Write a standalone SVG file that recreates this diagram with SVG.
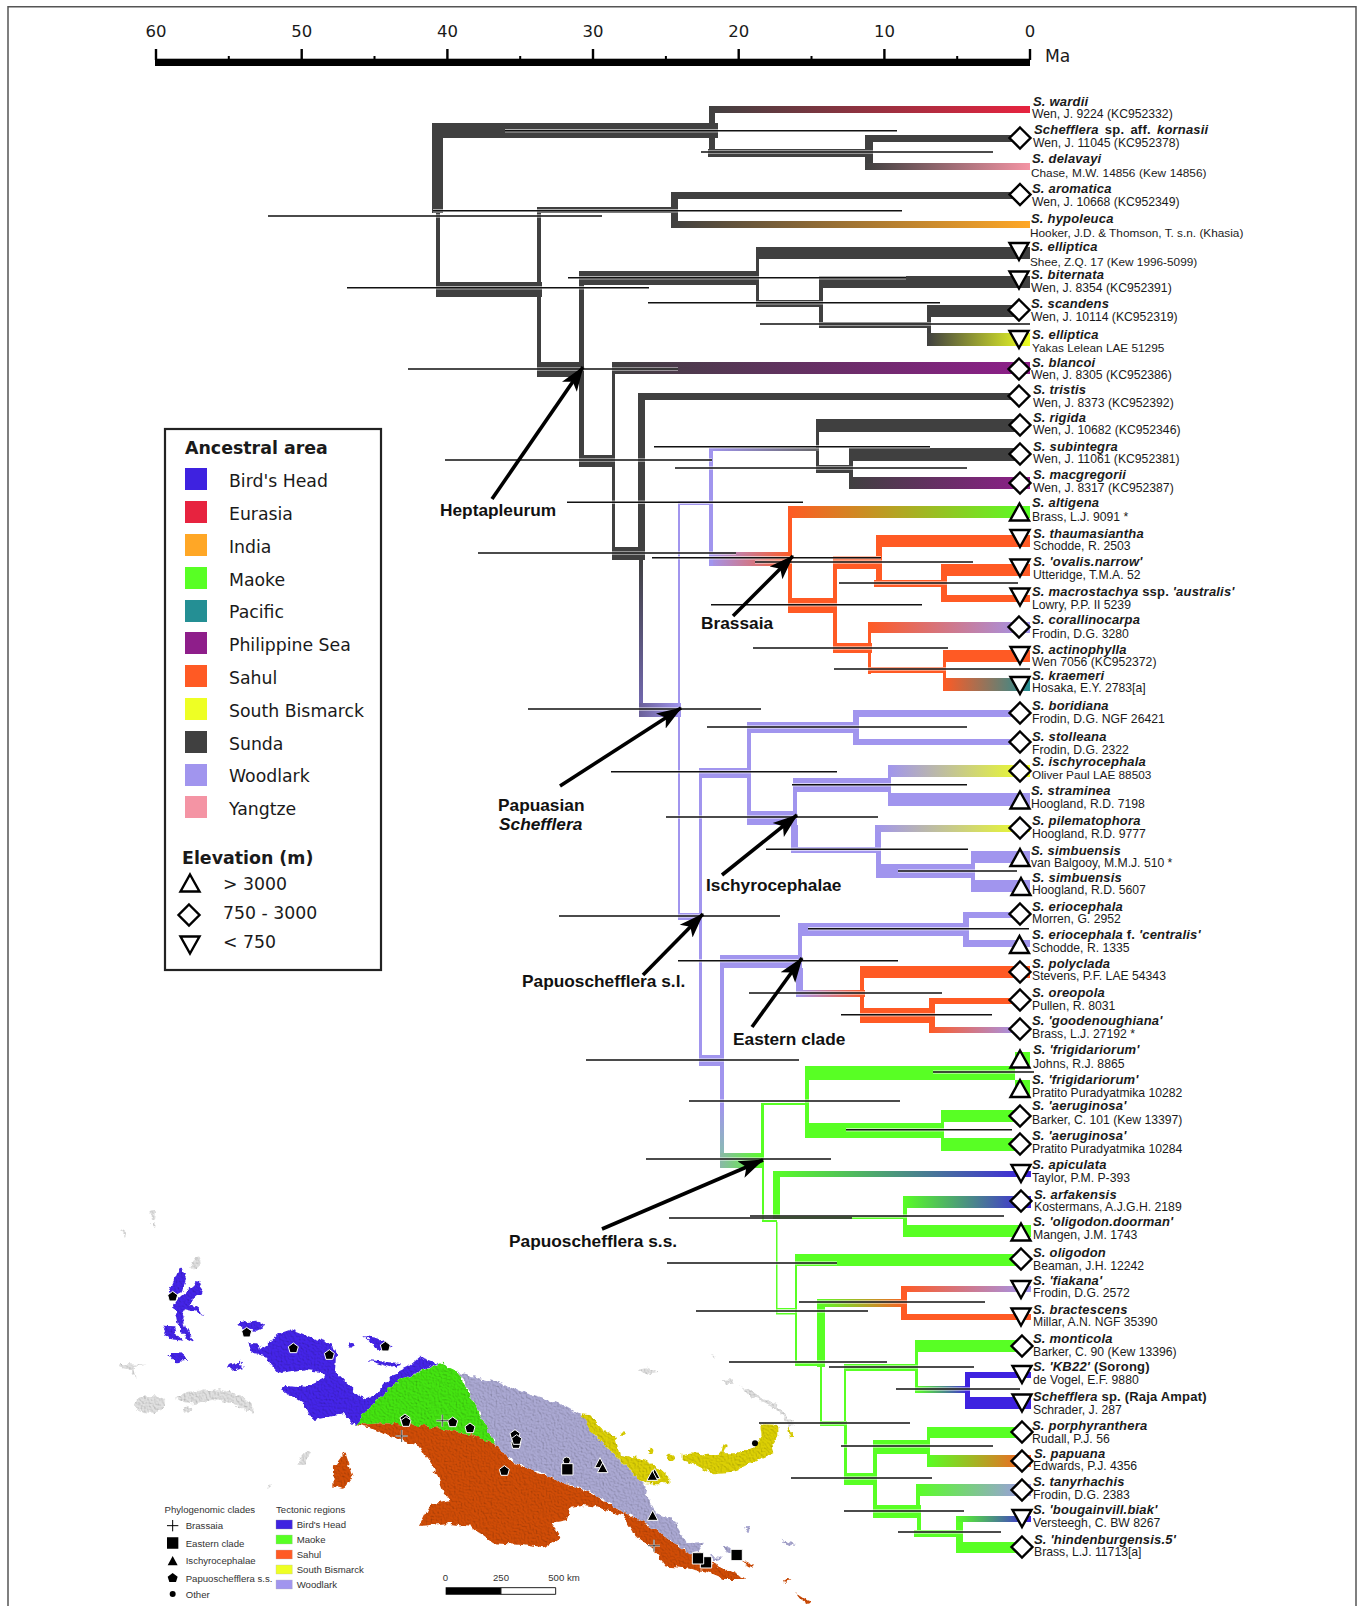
<svg xmlns="http://www.w3.org/2000/svg" width="1363" height="1606" viewBox="0 0 1363 1606">
<style>
text{font-family:"Liberation Sans",Arial,sans-serif;fill:#1a1a1a}
.d{font-family:"DejaVu Sans",sans-serif}
.su{fill:#404040}.wo{fill:#a195ee}.sa{fill:#ff5a24}.ma{fill:#58ff24}.bh{fill:#3e22e0}
.sp{font-size:13px;font-weight:bold;font-style:italic;letter-spacing:.2px}
.sp tspan{font-style:normal}
.co{font-size:12.2px}
.cn{font-size:11.8px}
.cl{font-size:17.3px;font-weight:bold;fill:#111}
.lg{font-size:17.3px}
.lb{font-size:17.4px;font-weight:bold}
.ax{font-size:16.5px;text-anchor:middle}
.sym{fill:#fff;stroke:#000;stroke-width:2.4;stroke-linejoin:miter}
.cih{fill:none;stroke:#fff;stroke-width:3.4;opacity:.6}
.cil{fill:none;stroke:#111;stroke-width:1.5}
.arr{stroke:#000;stroke-width:3.6;fill:none;marker-end:url(#ah)}
.ml{font-size:9.6px;fill:#333}
.mk{fill:#000;stroke:#fff;stroke-width:3}
.gr{fill:#e0e0e0}.mbh{fill:#4424e8}.mma{fill:#44e410}.mwo{fill:#aaa8d2}.msa{fill:#d04c06}.msb{fill:#dcd004}
</style>
<defs>
<linearGradient id="su-eu"><stop offset="0" stop-color="#404040"/><stop offset="1" stop-color="#e7233f"/></linearGradient>
<linearGradient id="su-ya"><stop offset="0" stop-color="#404040"/><stop offset="1" stop-color="#f494a4"/></linearGradient>
<linearGradient id="su-in"><stop offset="0" stop-color="#404040"/><stop offset="1" stop-color="#ffa726"/></linearGradient>
<linearGradient id="su-sb"><stop offset="0" stop-color="#404040"/><stop offset="1" stop-color="#eeff24"/></linearGradient>
<linearGradient id="su-ph"><stop offset="0" stop-color="#404040"/><stop offset="1" stop-color="#8e1e8a"/></linearGradient>
<linearGradient id="wo-su"><stop offset="0" stop-color="#a195ee"/><stop offset="1" stop-color="#666"/></linearGradient>
<linearGradient id="wo-sa"><stop offset="0" stop-color="#a195ee"/><stop offset="1" stop-color="#ff5a24"/></linearGradient>
<linearGradient id="wo-sb"><stop offset="0" stop-color="#a195ee"/><stop offset="1" stop-color="#eeff24"/></linearGradient>
<linearGradient id="sa-ma"><stop offset="0" stop-color="#ff5a24"/><stop offset="1" stop-color="#58ff24"/></linearGradient>
<linearGradient id="sa-wo"><stop offset="0" stop-color="#ff5a24"/><stop offset="1" stop-color="#a195ee"/></linearGradient>
<linearGradient id="sa-pa"><stop offset="0" stop-color="#ff5a24"/><stop offset="1" stop-color="#248f94"/></linearGradient>
<linearGradient id="ma-bh"><stop offset="0" stop-color="#58ff24"/><stop offset="1" stop-color="#3e22e0"/></linearGradient>
<linearGradient id="ma-sa"><stop offset="0" stop-color="#58ff24"/><stop offset="1" stop-color="#ff5a24"/></linearGradient>
<linearGradient id="ma-wo"><stop offset="0" stop-color="#58ff24"/><stop offset="1" stop-color="#a195ee"/></linearGradient>
<linearGradient id="su-wov" x2="0" y2="1"><stop offset="0" stop-color="#404040"/><stop offset="1" stop-color="#7268b0"/></linearGradient>
<linearGradient id="su-woh"><stop offset="0" stop-color="#6a6098"/><stop offset="1" stop-color="#a195ee"/></linearGradient>
<linearGradient id="wo-mav" x2="0" y2="1"><stop offset="0" stop-color="#a195ee"/><stop offset=".4" stop-color="#a195ee"/><stop offset="1" stop-color="#82c8a0"/></linearGradient>
<linearGradient id="wo-mah"><stop offset="0" stop-color="#8ab8a8"/><stop offset="1" stop-color="#58ff24"/></linearGradient>
<path id="dia" class="sym" d="M0-10.5 10.5 0 0 10.5-10.5 0Z"/>
<path id="up" class="sym" d="M0-8.5 9.5 8.5H-9.5Z"/>
<path id="dn" class="sym" d="M0 8.5 9.5-8.5H-9.5Z"/>
<marker id="ah" markerUnits="userSpaceOnUse" markerWidth="26" markerHeight="20" refX="24" refY="10" orient="auto" viewBox="0 0 26 20"><path d="M0 1 25 10 0 19 6 10Z" fill="#000"/></marker>
<filter id="hill" x="-3%" y="-3%" width="106%" height="106%" color-interpolation-filters="sRGB"><feTurbulence type="fractalNoise" baseFrequency=".05" numOctaves="3" seed="7" result="w"/><feDisplacementMap in="SourceGraphic" in2="w" scale="20" xChannelSelector="R" yChannelSelector="G" result="s"/><feTurbulence type="fractalNoise" baseFrequency=".2" numOctaves="2" seed="4" result="n"/><feDiffuseLighting in="n" surfaceScale="2" lighting-color="#fff" diffuseConstant="1.1" result="l"><feDistantLight azimuth="315" elevation="62"/></feDiffuseLighting><feComposite in="l" in2="s" operator="in" result="c"/><feBlend in="s" in2="c" mode="multiply"/></filter>
<path id="pe" class="mk" d="M0-16 15-5 10 13H-10L-15-5Z"/>
<path id="squ" class="mk" d="M-17-17H17V17H-17Z"/>
<path id="tri" class="mk" d="M0-17 16 13H-16Z"/>
<g id="pl"><path d="M-18 0H18M0-18V18" fill="none" stroke="#fff" stroke-width="5"/><path d="M-18 0H18M0-18V18" fill="none" stroke="#000" stroke-width="2"/></g>
<path id="cis" d="M505 130.7H897M701 152H993M433 210.7H902M268 216H602M568 277.7H906M347 287.7H649M648 302.7H940M760 324H1030M408 369H678M654 446.7H930M445 460H712M675 468H967M567 502.3H803M478 553H736M652 557.7H881M755 562H973M839 583H1018M711 604.7H922M753 648H948M834 669H1030M528 709H761M707 727H967M611 771.7H837M792 784.7H967M666 817H878M766 849.3H968M898 871H1017M559 916H780M808 928.7H1029M678 960.7H898M749 993H942M841 1014.7H992M586 1060H799M933 1072H1034M689 1101H900M846 1129.7H1012M646 1159H831M750 1216H1004M669 1218H852M667 1263H837M799 1302H985M696 1311H868M729 1362H887M829 1367H974M896 1389H1020M759 1423H910M841 1446H993M791 1478H932M844 1511H964M898 1532H1001"/>
</defs>

<path id="frame" d="M8 1606V6.8H1356V1606" fill="none" stroke="#555" stroke-width="1.5"/>

<g id="map">
<g filter="url(#hill)" transform="translate(100,1190) scale(.33333)">
<g class="gr">
<ellipse cx="150" cy="643" rx="45" ry="25"/>
<path d="M225 625 260 605 360 598 420 615 460 650 460 672 400 640 340 630 280 640 240 635ZM270 232 285 205 300 200 302 225 285 240ZM155 62 168 65 165 90 155 85ZM152 100 165 100 162 115ZM62 120 78 130 75 142ZM58 522 140 524 100 532 108 570 95 540 60 532ZM245 655 280 650 275 662 250 668ZM620 782 630 785 612 825 595 825 600 805ZM510 880 516 885 508 898Z"/>
</g>
<g class="mbh">
<path d="M470 490 540 430 575 418 640 445 700 465 708 500 705 545 745 585 790 628 830 612 880 552 925 530 960 500 1015 520 900 570 830 630 765 705 730 672 640 690 610 640 545 600 560 585 620 590 670 568 678 548 620 540 540 552 490 495Z"/>
<path d="M208 305 240 232 258 262 250 300 222 314ZM235 325 295 275 307 285 300 310 265 340 315 372 255 358 245 375 258 410 282 455 258 445 232 400 222 345ZM185 410 225 412 232 438 247 452 205 447ZM205 492 240 492 265 512 225 517ZM380 530 415 515 432 535 395 542ZM415 400 470 392 497 410 470 422 430 417ZM445 460 475 460 482 488 455 487ZM790 438 830 443 872 470 840 484 810 457ZM800 510 905 520 870 532Z"/>
<circle cx="756" cy="466" r="7"/>
</g>
<path class="mma" d="M765 705 830 630 900 570 1020 520 1075 545 1130 650 1190 765 1100 730 950 705 850 700Z"/>
<path class="msa" d="M765 705 850 700 950 705 1100 730 1190 765 1240 815 1370 870 1470 905 1560 960 1640 1000 1720 1055 1770 1090 1795 1090 1840 1120 1890 1145 1940 1170 1880 1170 1820 1145 1760 1135 1700 1130 1660 1080 1600 1030 1570 980 1490 950 1450 945 1415 950 1400 990 1350 1000 1380 1040 1330 1075 1270 1065 1180 1060 1110 1010 1040 1000 960 1008 990 945 1050 932 1030 905 1010 850 960 770 900 750 830 720Z"/>
<path class="msa" d="M735 785 750 830 757 860 730 897 700 890 702 830Z"/>
</g>
<g filter="url(#hill)" transform="translate(460,1290) scale(.33333)">
<path class="gr" d="M532 240 560 235 595 245 560 252ZM752 192 765 198 762 205ZM785 270 815 268 822 285 795 285ZM840 285 900 320 950 345 985 385 1005 405 985 410 975 380 930 345 870 320Z"/>
<path class="mwo" d="M-5 245 60 265 110 275 170 300 240 320 310 345 355 370 380 385 400 430 470 500 540 570 560 590 555 610 590 670 640 690 680 760 735 755 715 785 690 790 640 755 560 700 480 660 390 605 290 570 160 515 108 465Z"/>
<path class="mwo" d="M795 772 808 768 812 790 800 788ZM745 797 790 802 760 808ZM855 712 870 710 866 730ZM965 750 1005 762 985 770Z"/>
<path class="msb" d="M360 370 385 372 420 410 465 440 480 495 540 505 590 530 625 560 625 580 560 580 540 570 470 500 400 430ZM665 495 700 490 745 495 785 490 790 460 800 465 790 490 840 490 880 470 905 440 900 400 955 405 955 440 935 470 940 490 880 515 820 545 760 550 700 520 665 510ZM982 405 1003 440 990 442Z"/>
<circle class="msb" cx="490" cy="431" r="7"/><ellipse class="msb" cx="572" cy="482" rx="8" ry="7"/><ellipse class="msb" cx="633" cy="505" rx="12" ry="11"/>
<path class="msa" d="M850 812 878 825 875 836 860 830ZM972 868 995 873 975 878ZM1005 908 1050 938 1040 942 1025 932Z"/>
</g>
<g id="map-markers" transform="translate(100,1190) scale(.33333)">
<use href="#pe" x="218" y="320"/><use href="#pe" x="440" y="428"/><use href="#pe" x="580" y="475"/><use href="#pe" x="688" y="495"/><use href="#pe" x="856" y="470"/><use href="#pe" x="915" y="688"/><use href="#pe" x="918" y="696"/><use href="#pe" x="1058" y="697"/><use href="#pe" x="1110" y="715"/><use href="#pe" x="1245" y="735"/><use href="#pe" x="1248" y="762"/><use href="#pe" x="1250" y="750"/><use href="#pe" x="1213" y="843"/>
<use href="#pl" x="1027" y="692"/><use href="#pl" x="905" y="738"/><use href="#pl" x="1662" y="1067"/>
<circle class="mk" cx="1400" cy="812" r="11"/><circle cx="1965" cy="760" r="9" fill="#000"/>
<use href="#squ" x="1402" y="838"/><use href="#squ" x="1818" y="1117"/><use href="#squ" x="1794" y="1105"/><use href="#squ" x="1910" y="1095"/>
<use href="#tri" x="1500" y="820"/><use href="#tri" x="1508" y="835"/><use href="#tri" x="1664" y="853"/><use href="#tri" x="1657" y="858"/><use href="#tri" x="1658" y="978"/>
<path d="M201 1007H235M218 990V1024" fill="none" stroke="#000" stroke-width="3"/>
<path d="M201 1042H235V1076H201ZM218 1098 233 1126H203ZM218 1149 233 1160 228 1176H208L203 1160Z" fill="#000"/>
<circle cx="218" cy="1212" r="9" fill="#000"/>
<path stroke="#999" d="M528 990H577V1017H528Z" fill="#3e22e0"/>
<path stroke="#bbb" d="M528 1035H577V1062H528Z" fill="#58ff24"/>
<path stroke="#bbb" d="M528 1080H577V1107H528Z" fill="#ff5a24"/>
<path stroke="#bbb" d="M528 1125H577V1152H528Z" fill="#eeff24"/>
<path stroke="#bbb" d="M528 1170H577V1197H528Z" fill="#a195ee"/>
<path d="M1037 1192H1203V1214H1037Z" fill="#000"/>
<path d="M1203 1193H1367V1213H1203Z" fill="#fff" stroke="#222" stroke-width="3"/>
</g>
<g id="map-legend">
<text class="ml" x="164.500" y="1513">Phylogenomic clades</text>
<text class="ml" x="185.700" y="1529.300">Brassaia</text>
<text class="ml" x="185.700" y="1546.700">Eastern clade</text>
<text class="ml" x="185.700" y="1564.300">Ischyrocephalae</text>
<text class="ml" x="185.700" y="1581.700">Papuoschefflera s.s.</text>
<text class="ml" x="185.700" y="1598">Other</text>
<text class="ml" x="276" y="1513">Tectonic regions</text>
<text class="ml" x="296.700" y="1528.300">Bird's Head</text>
<text class="ml" x="296.700" y="1543.300">Maoke</text>
<text class="ml" x="296.700" y="1558.300">Sahul</text>
<text class="ml" x="296.700" y="1573.300">South Bismarck</text>
<text class="ml" x="296.700" y="1588.300">Woodlark</text>
<text class="ml" x="445.500" y="1580.500" text-anchor="middle">0</text>
<text class="ml" x="501" y="1580.500" text-anchor="middle">250</text>
<text class="ml" x="564" y="1580.500" text-anchor="middle">500 km</text>
</g>
</g>

<g id="axis">
<rect x="155" y="58.700" width="875" height="7.300" fill="#000"/>
<path fill="none" stroke="#000" stroke-width="2.400" d="M156 49V60M301.700 49V60M447.400 49V60M593 49V60M738.700 49V60M884.400 49V60M1030 49V60"/>
<path fill="none" stroke="#000" stroke-width="2" d="M228.800 56V60M374.500 56V60M520.200 56V60M665.900 56V60M811.500 56V60M957.200 56V60"/>
<text class="ax d" x="156" y="37">60</text><text class="ax d" x="301.700" y="37">50</text><text class="ax d" x="447.400" y="37">40</text><text class="ax d" x="593" y="37">30</text><text class="ax d" x="738.700" y="37">20</text><text class="ax d" x="884.400" y="37">10</text><text class="ax d" x="1030" y="37">0</text>
<text class="d" style="font-size:17.200px" x="1045" y="62">Ma</text>
</g>

<g id="connectors">
<g class="su">
<rect x="432" y="123" width="286" height="15"/><rect x="432" y="123" width="11" height="90"/><rect x="436" y="213" width="4" height="84"/><rect x="436" y="282" width="106" height="15"/>
<rect x="709" y="106" width="6" height="51"/><rect x="708" y="149" width="165" height="8"/><rect x="865" y="135" width="8" height="35"/>
<rect x="537" y="207" width="140" height="6"/><rect x="671" y="192" width="7" height="36"/><rect x="537" y="207" width="4" height="170"/><rect x="537" y="362" width="46" height="15"/>
<rect x="579" y="271" width="5" height="196"/><rect x="579" y="271" width="180" height="14"/><rect x="756" y="247" width="3" height="60"/><rect x="757" y="300" width="65" height="7"/><rect x="819" y="276" width="4" height="52"/><rect x="821" y="322" width="110" height="6"/><rect x="927" y="305" width="4" height="41"/>
<rect x="580" y="455" width="35" height="12"/><rect x="612" y="362" width="3" height="198"/><rect x="612" y="547" width="33" height="13"/><rect x="638" y="393" width="7" height="154"/>
<rect x="816" y="420" width="3" height="53"/><rect x="816" y="465" width="37" height="8"/><rect x="849" y="448" width="4" height="41"/>
</g>
<rect x="639" y="560" width="4" height="147" fill="url(#su-wov)"/><rect x="639" y="703" width="42" height="14" fill="url(#su-woh)"/>
<rect x="709" y="448" width="110" height="3" fill="url(#wo-su)"/>
<rect x="709" y="552" width="83" height="14" fill="url(#wo-sa)"/>
<g class="wo">
<rect x="709" y="448" width="4" height="118"/><rect x="678" y="501" width="35" height="4"/><rect x="678" y="501" width="2" height="419"/>
<rect x="678" y="913" width="24" height="7"/><rect x="699" y="768" width="3" height="298"/><rect x="699" y="768" width="52" height="10"/><rect x="747" y="722" width="4" height="103"/><rect x="747" y="722" width="112" height="11"/><rect x="853" y="710" width="6" height="35"/><rect x="747" y="811" width="50" height="14"/>
<rect x="793" y="778" width="4" height="33"/><rect x="791" y="825" width="7" height="28"/><rect x="793" y="778" width="98" height="14"/><rect x="888" y="765" width="3" height="41"/><rect x="791" y="847" width="90" height="6"/><rect x="875" y="825" width="6" height="22"/><rect x="876" y="853" width="5" height="25"/><rect x="876" y="864" width="99" height="14"/><rect x="971" y="851" width="4" height="41"/>
<rect x="699" y="1055" width="25" height="11"/><rect x="720" y="955" width="4" height="100"/><rect x="720" y="955" width="82" height="13"/><rect x="798" y="923" width="4" height="32"/><rect x="796" y="968" width="7" height="29"/><rect x="798" y="923" width="171" height="13"/><rect x="963" y="912" width="6" height="35"/>
</g>
<rect x="796" y="990" width="69" height="7" fill="url(#wo-sa)"/>
<rect x="720" y="1066" width="4" height="102" fill="url(#wo-mav)"/><rect x="720" y="1153" width="44" height="15" fill="url(#wo-mah)"/>
<g class="sa">
<rect x="860" y="966" width="4" height="57"/><rect x="860" y="1008" width="75" height="15"/><rect x="929" y="998" width="6" height="35"/>
<rect x="788" y="506" width="4" height="107"/><rect x="788" y="598" width="49" height="15"/><rect x="833" y="556" width="4" height="97"/><rect x="833" y="556" width="49" height="13"/><rect x="876" y="535" width="6" height="52"/><rect x="874" y="580" width="73" height="7"/><rect x="941" y="564" width="6" height="38"/><rect x="833" y="643" width="39" height="10"/><rect x="868" y="622" width="3" height="52"/><rect x="869" y="667" width="77" height="6"/><rect x="943" y="650" width="3" height="41"/>
<rect x="901" y="1286" width="6" height="34"/>
</g>
<g class="ma">
<rect x="761" y="1103" width="3" height="65"/><rect x="761" y="1103" width="46" height="2"/><rect x="805" y="1066" width="4" height="72"/><rect x="805" y="1066" width="210" height="14"/><rect x="805" y="1123" width="139" height="15"/><rect x="941" y="1110" width="3" height="41"/>
<rect x="762" y="1168" width="2" height="52"/><rect x="762" y="1220" width="15" height="2"/><rect x="776" y="1222" width="1.500" height="91"/><rect x="773" y="1171" width="7" height="46"/><rect x="773" y="1216" width="132" height="3"/><rect x="903" y="1196" width="4" height="41"/>
<rect x="776" y="1308" width="20" height="1.500"/><rect x="776" y="1313" width="20" height="1.500"/><rect x="795" y="1254" width="2" height="109"/><rect x="795" y="1361" width="30" height="5"/><rect x="817" y="1299" width="8" height="68"/>
<rect x="820" y="1366" width="2" height="55"/><rect x="820" y="1421" width="27" height="5"/><rect x="844" y="1364" width="74" height="7"/><rect x="844" y="1369" width="2" height="52"/><rect x="915" y="1340" width="3" height="53"/>
<rect x="844" y="1426" width="3" height="59"/><rect x="844" y="1473" width="33" height="12"/><rect x="873" y="1440" width="4" height="78"/><rect x="873" y="1440" width="57" height="14"/><rect x="927" y="1427" width="3" height="40"/><rect x="874" y="1505" width="47" height="13"/><rect x="916" y="1484" width="4" height="21"/><rect x="917" y="1518" width="4" height="19"/><rect x="914" y="1530" width="49" height="7"/><rect x="956" y="1516" width="7" height="37"/>
</g>
<rect x="817" y="1299" width="90" height="8" fill="url(#ma-sa)"/>
<rect x="916" y="1386" width="54" height="7" fill="url(#ma-bh)"/>
<rect class="bh" x="965" y="1372" width="5" height="37"/>
</g>

<g id="tips">
<g id="t01"><rect x="709" y="106" width="321" height="7" fill="url(#su-eu)"/><text class="sp" x="1033" y="106">S. wardii</text><text class="co" x="1032" y="118">Wen, J. 9224 (KC952332)</text></g>
<g id="t02"><rect class="su" x="865" y="135" width="155" height="7"/><use href="#dia" x="1020" y="138"/><text class="sp" x="1034" y="134" style="word-spacing:2.4px">Schefflera <tspan>sp. aff.</tspan>  kornasii</text><text class="co" x="1033" y="147">Wen, J. 11045 (KC952378)</text></g>
<g id="t03"><rect x="865" y="163" width="165" height="7" fill="url(#su-ya)"/><text class="sp" x="1032" y="163">S. delavayi</text><text class="cn" x="1031" y="177" style="word-spacing:.4px">Chase, M.W. 14856  (Kew 14856)</text></g>
<g id="t04"><rect class="su" x="671" y="192" width="349" height="7"/><use href="#dia" x="1020" y="194.500"/><text class="sp" x="1032" y="193">S. aromatica</text><text class="co" x="1032" y="206">Wen, J. 10668 (KC952349)</text></g>
<g id="t05"><rect x="671" y="221" width="359" height="7" fill="url(#su-in)"/><text class="sp" x="1031" y="223">S. hypoleuca</text><text class="cn" x="1030" y="237">Hooker, J.D. &amp; Thomson, T. s.n. (Khasia)</text></g>
<g id="t06"><rect class="su" x="756" y="247" width="274" height="12"/><use href="#dn" x="1019" y="251.500"/><text class="sp" x="1031" y="251">S. elliptica</text><text class="cn" x="1030" y="266">Shee, Z.Q. 17 (Kew 1996-5099)</text></g>
<g id="t07"><rect class="su" x="819" y="276" width="211" height="12"/><use href="#dn" x="1019" y="280"/><text class="sp" x="1031" y="279">S. biternata</text><text class="co" x="1031" y="292">Wen, J. 8354 (KC952391)</text></g>
<g id="t08"><rect class="su" x="927" y="305" width="95" height="12"/><use href="#dia" x="1019" y="310"/><text class="sp" x="1031" y="308">S. scandens</text><text class="co" x="1031" y="321">Wen, J. 10114 (KC952319)</text></g>
<g id="t09"><rect x="927" y="333" width="103" height="13" fill="url(#su-sb)"/><use href="#dn" x="1019" y="339.500"/><text class="sp" x="1032" y="339">S. elliptica</text><text class="cn" x="1032" y="352">Yakas Lelean LAE 51295</text></g>
<g id="t10"><rect x="612" y="362" width="418" height="12" fill="url(#su-ph)"/><use href="#dia" x="1019" y="369"/><text class="sp" x="1032" y="367">S. blancoi</text><text class="co" x="1031" y="379">Wen, J. 8305 (KC952386)</text></g>
<g id="t11"><rect class="su" x="638" y="393" width="382" height="7"/><use href="#dia" x="1019" y="396"/><text class="sp" x="1033" y="394">S. tristis</text><text class="co" x="1033" y="407">Wen, J. 8373 (KC952392)</text></g>
<g id="t12"><rect class="su" x="816" y="419" width="204" height="13"/><use href="#dia" x="1020" y="425"/><text class="sp" x="1033" y="422">S. rigida</text><text class="co" x="1033" y="434">Wen, J. 10682 (KC952346)</text></g>
<g id="t13"><rect class="su" x="849" y="448" width="171" height="13"/><use href="#dia" x="1020" y="454"/><text class="sp" x="1033" y="451">S. subintegra</text><text class="co" x="1033" y="463">Wen, J. 11061 (KC952381)</text></g>
<g id="t14"><rect x="849" y="477" width="181" height="12" fill="url(#su-ph)"/><use href="#dia" x="1020" y="483"/><text class="sp" x="1033" y="479">S. macgregorii</text><text class="co" x="1033" y="492">Wen, J. 8317 (KC952387)</text></g>
<g id="t15"><rect x="788" y="506" width="242" height="12" fill="url(#sa-ma)"/><use href="#up" x="1019.500" y="512"/><text class="sp" x="1032" y="507.300">S. altigena</text><text class="co" x="1032" y="521">Brass, L.J. 9091 *</text></g>
<g id="t16"><rect class="sa" x="876" y="535" width="154" height="12"/><use href="#dn" x="1020" y="538.500"/><text class="sp" x="1033" y="538">S. thaumasiantha</text><text class="co" x="1033" y="550">Schodde, R. 2503</text></g>
<g id="t17"><rect class="sa" x="941" y="564" width="89" height="12"/><use href="#dn" x="1020" y="568"/><text class="sp" x="1033" y="565.700">S. 'ovalis.narrow'</text><text class="co" x="1033" y="578.500">Utteridge, T.M.A. 52</text></g>
<g id="t18"><rect class="sa" x="941" y="595" width="89" height="7"/><use href="#dn" x="1020" y="597"/><text class="sp" x="1032" y="596.400">S. macrostachya <tspan>ssp.</tspan> 'australis'</text><text class="co" x="1032" y="609">Lowry, P.P. II 5239</text></g>
<g id="t19"><rect x="868" y="622" width="162" height="11" fill="url(#sa-wo)"/><use href="#dia" x="1019" y="627"/><text class="sp" x="1032" y="624">S. corallinocarpa</text><text class="co" x="1032" y="638">Frodin, D.G. 3280</text></g>
<g id="t20"><rect class="sa" x="943" y="650" width="87" height="12"/><use href="#dn" x="1020" y="655.500"/><text class="sp" x="1032" y="653.700">S. actinophylla</text><text class="co" x="1032" y="665.500">Wen 7056 (KC952372)</text></g>
<g id="t21"><rect x="943" y="678" width="87" height="13" fill="url(#sa-pa)"/><use href="#dn" x="1020" y="685.500"/><text class="sp" x="1032" y="680.300">S. kraemeri</text><text class="co" x="1032" y="692">Hosaka, E.Y. 2783[a]</text></g>
<g id="t22"><rect class="wo" x="853" y="710" width="167" height="7"/><use href="#dia" x="1020" y="713"/><text class="sp" x="1032" y="710">S. boridiana</text><text class="co" x="1032" y="723">Frodin, D.G. NGF 26421</text></g>
<g id="t23"><rect class="wo" x="853" y="739" width="167" height="6"/><use href="#dia" x="1020" y="742"/><text class="sp" x="1032" y="740.800">S. stolleana</text><text class="co" x="1032" y="753.600">Frodin, D.G. 2322</text></g>
<g id="t24"><rect x="888" y="765" width="142" height="12" fill="url(#wo-sb)"/><use href="#dia" x="1020" y="771"/><text class="sp" x="1032" y="766.400">S. ischyrocephala</text><text class="cn" x="1032" y="779">Oliver Paul LAE 88503</text></g>
<g id="t25"><rect class="wo" x="888" y="793" width="142" height="13"/><use href="#up" x="1020" y="800"/><text class="sp" x="1031" y="795">S. straminea</text><text class="co" x="1031" y="808">Hoogland, R.D. 7198</text></g>
<g id="t26"><rect x="875" y="825" width="155" height="7" fill="url(#wo-sb)"/><use href="#dia" x="1020" y="828"/><text class="sp" x="1032" y="824.700">S. pilematophora</text><text class="co" x="1032" y="837.500">Hoogland, R.D. 9777</text></g>
<g id="t27"><rect class="wo" x="971" y="851" width="59" height="12"/><use href="#up" x="1020" y="857.500"/><text class="sp" x="1031" y="855">S. simbuensis</text><text class="co" x="1031" y="867">van Balgooy, M.M.J. 510 *</text></g>
<g id="t28"><rect class="wo" x="971" y="880" width="59" height="12"/><use href="#up" x="1021" y="886.500"/><text class="sp" x="1032" y="882">S. simbuensis</text><text class="co" x="1032" y="894">Hoogland, R.D. 5607</text></g>
<g id="t29"><rect class="wo" x="963" y="912" width="57" height="6"/><use href="#dia" x="1020" y="914"/><text class="sp" x="1032" y="910.700">S. eriocephala</text><text class="co" x="1032" y="922.500">Morren, G. 2952</text></g>
<g id="t30"><rect class="wo" x="963" y="940" width="67" height="7"/><use href="#up" x="1019.500" y="944.500"/><text class="sp" x="1032" y="939.400">S. eriocephala <tspan>f.</tspan> 'centralis'</text><text class="co" x="1032" y="952">Schodde, R. 1335</text></g>
<g id="t31"><rect class="sa" x="860" y="966" width="170" height="12"/><use href="#dia" x="1020" y="972"/><text class="sp" x="1032" y="968">S. polyclada</text><text class="co" x="1032" y="980">Stevens, P.F. LAE 54343</text></g>
<g id="t32"><rect class="sa" x="929" y="998" width="91" height="6"/><use href="#dia" x="1020" y="1000"/><text class="sp" x="1032" y="996.700">S. oreopola</text><text class="co" x="1032" y="1009.600">Pullen, R. 8031</text></g>
<g id="t33"><rect x="929" y="1027" width="91" height="6" fill="url(#sa-wo)"/><use href="#dia" x="1020" y="1029"/><text class="sp" x="1032" y="1025.400">S. 'goodenoughiana'</text><text class="co" x="1032" y="1038">Brass, L.J. 27192 *</text></g>
<g id="t34"><rect class="ma" x="1015" y="1052" width="15" height="13"/><use href="#up" x="1020" y="1059"/><text class="sp" x="1033" y="1054">S. 'frigidariorum'</text><text class="co" x="1033" y="1068">Johns, R.J. 8865</text></g>
<g id="t35"><rect class="ma" x="1015" y="1080" width="15" height="17"/><use href="#up" x="1020" y="1088.500"/><text class="sp" x="1032" y="1083.800">S. 'frigidariorum'</text><text class="co" x="1032" y="1096.600">Pratito Puradyatmika 10282</text></g>
<g id="t36"><rect class="ma" x="941" y="1110" width="80" height="12"/><use href="#dia" x="1020" y="1116"/><text class="sp" x="1032" y="1110.400">S. 'aeruginosa'</text><text class="co" x="1032" y="1124">Barker, C. 101 (Kew 13397)</text></g>
<g id="t37"><rect class="ma" x="941" y="1138" width="80" height="13"/><use href="#dia" x="1020" y="1144"/><text class="sp" x="1032" y="1140">S. 'aeruginosa'</text><text class="co" x="1032" y="1153">Pratito Puradyatmika 10284</text></g>
<g id="t38"><rect x="773" y="1171" width="258" height="6" fill="url(#ma-bh)"/><use href="#dn" x="1021" y="1173.500"/><text class="sp" x="1032" y="1168.800">S. apiculata</text><text class="co" x="1032" y="1181.600">Taylor, P.M. P-393</text></g>
<g id="t39"><rect x="903" y="1196" width="128" height="12" fill="url(#ma-bh)"/><use href="#dia" x="1021" y="1201"/><text class="sp" x="1034" y="1198.500">S. arfakensis</text><text class="co" x="1034" y="1211.300">Kostermans, A.J.G.H. 2189</text></g>
<g id="t40"><rect class="ma" x="903" y="1225" width="128" height="12"/><use href="#up" x="1021" y="1232"/><text class="sp" x="1033" y="1226">S. 'oligodon.doorman'</text><text class="co" x="1033" y="1239">Mangen, J.M. 1743</text></g>
<g id="t41"><rect class="ma" x="795" y="1254" width="226" height="12"/><use href="#dia" x="1021" y="1259"/><text class="sp" x="1033" y="1257">S. oligodon</text><text class="co" x="1033" y="1270">Beaman, J.H. 12242</text></g>
<g id="t42"><rect x="901" y="1286" width="130" height="6" fill="url(#sa-wo)"/><use href="#dn" x="1021" y="1289.500"/><text class="sp" x="1033" y="1285">S. 'fiakana'</text><text class="co" x="1033" y="1297">Frodin, D.G. 2572</text></g>
<g id="t43"><rect class="sa" x="901" y="1314" width="130" height="6"/><use href="#dn" x="1021" y="1317"/><text class="sp" x="1033" y="1314">S. bractescens</text><text class="co" x="1033" y="1326">Millar, A.N. NGF 35390</text></g>
<g id="t44"><rect class="ma" x="915" y="1340" width="107" height="12"/><use href="#dia" x="1022" y="1346"/><text class="sp" x="1033" y="1343">S. monticola</text><text class="co" x="1033" y="1355.700">Barker, C. 90 (Kew 13396)</text></g>
<g id="t45"><rect class="bh" x="965" y="1372" width="66" height="6"/><use href="#dn" x="1022" y="1374.500"/><text class="sp" x="1033" y="1370.500">S. 'KB22' <tspan>(Sorong)</tspan></text><text class="co" x="1033" y="1384.400">de Vogel, E.F. 9880</text></g>
<g id="t46"><rect class="bh" x="965" y="1397" width="66" height="12"/><use href="#dn" x="1022" y="1403"/><text class="sp" x="1033" y="1401">Schefflera <tspan>sp. (Raja Ampat)</tspan></text><text class="co" x="1033" y="1414">Schrader, J. 287</text></g>
<g id="t47"><rect class="ma" x="927" y="1427" width="95" height="11"/><use href="#dia" x="1022" y="1432"/><text class="sp" x="1032" y="1430">S. porphyranthera</text><text class="co" x="1032" y="1442.700">Rudall, P.J. 56</text></g>
<g id="t48"><rect x="927" y="1455" width="104" height="12" fill="url(#ma-sa)"/><use href="#dia" x="1022" y="1461"/><text class="sp" x="1034" y="1457.600">S. papuana</text><text class="co" x="1033" y="1470.400">Edwards, P.J. 4356</text></g>
<g id="t49"><rect x="916" y="1484" width="115" height="12" fill="url(#ma-wo)"/><use href="#dia" x="1022" y="1490"/><text class="sp" x="1033" y="1486">S. tanyrhachis</text><text class="co" x="1033" y="1499">Frodin, D.G. 2383</text></g>
<g id="t50"><rect x="956" y="1516" width="75" height="6" fill="url(#ma-bh)"/><use href="#dn" x="1022" y="1518.500"/><text class="sp" x="1033" y="1514">S. 'bougainvill.biak'</text><text class="co" x="1033" y="1526.700">Versteegh, C. BW 8267</text></g>
<g id="t51"><rect class="ma" x="956" y="1542" width="66" height="11"/><use href="#dia" x="1022" y="1547"/><text class="sp" x="1034" y="1543.600">S. 'hindenburgensis.5'</text><text class="co" x="1034" y="1556.400">Brass, L.J. 11713[a]</text></g>
</g>

<g id="ci-bars"><use href="#cis" class="cih"/><use href="#cis" class="cil"/></g>

<g id="clades">
<path class="arr" d="M492 499 583 367"/><path class="arr" d="M560 786 681 708"/><path class="arr" d="M733 616 793 556"/><path class="arr" d="M722 875 797 815"/><path class="arr" d="M643 975 703 914"/><path class="arr" d="M752 1027 802 958"/><path class="arr" d="M602 1229 763 1160"/>
<text class="cl" x="440" y="516">Heptapleurum</text>
<text class="cl" x="701" y="629">Brassaia</text>
<text class="cl" x="498" y="811">Papuasian</text>
<text class="cl" x="499" y="830" font-style="italic">Schefflera</text>
<text class="cl" x="706" y="891">Ischyrocephalae</text>
<text class="cl" x="522" y="987">Papuoschefflera s.l.</text>
<text class="cl" x="733" y="1045">Eastern clade</text>
<text class="cl" x="509" y="1247">Papuoschefflera s.s.</text>
</g>

<g id="legend">
<rect x="165" y="429" width="216" height="541" fill="#fff" stroke="#222" stroke-width="2.200"/>
<text class="d lb" x="185" y="454">Ancestral area</text>
<rect x="185" y="468" width="22" height="22" fill="#3e22e0"/><text class="d lg" x="229" y="487">Bird's Head</text>
<rect x="185" y="501" width="22" height="22" fill="#e7233f"/><text class="d lg" x="229" y="520">Eurasia</text>
<rect x="185" y="534" width="22" height="22" fill="#ffa726"/><text class="d lg" x="229" y="553">India</text>
<rect x="185" y="567" width="22" height="22" fill="#58ff24"/><text class="d lg" x="229" y="586">Maoke</text>
<rect x="185" y="600" width="22" height="22" fill="#248f94"/><text class="d lg" x="229" y="618">Pacific</text>
<rect x="185" y="632" width="22" height="22" fill="#8e1e8a"/><text class="d lg" x="229" y="651">Philippine Sea</text>
<rect x="185" y="665" width="22" height="22" fill="#ff5a24"/><text class="d lg" x="229" y="684">Sahul</text>
<rect x="185" y="698" width="22" height="22" fill="#eeff24"/><text class="d lg" x="229" y="717">South Bismarck</text>
<rect x="185" y="731" width="22" height="22" fill="#404040"/><text class="d lg" x="229" y="750">Sunda</text>
<rect x="185" y="764" width="22" height="22" fill="#a195ee"/><text class="d lg" x="229" y="782">Woodlark</text>
<rect x="185" y="796" width="22" height="22" fill="#f494a4"/><text class="d lg" x="229" y="815">Yangtze</text>
<text class="d lb" x="182" y="864">Elevation (m)</text>
<use href="#up" x="190" y="883"/><text class="d lg" x="223" y="890">&gt; 3000</text>
<use href="#dia" x="189" y="915"/><text class="d lg" x="223" y="919">750 - 3000</text>
<use href="#dn" x="190" y="945"/><text class="d lg" x="223" y="948">&lt; 750</text>
</g>
</svg>
